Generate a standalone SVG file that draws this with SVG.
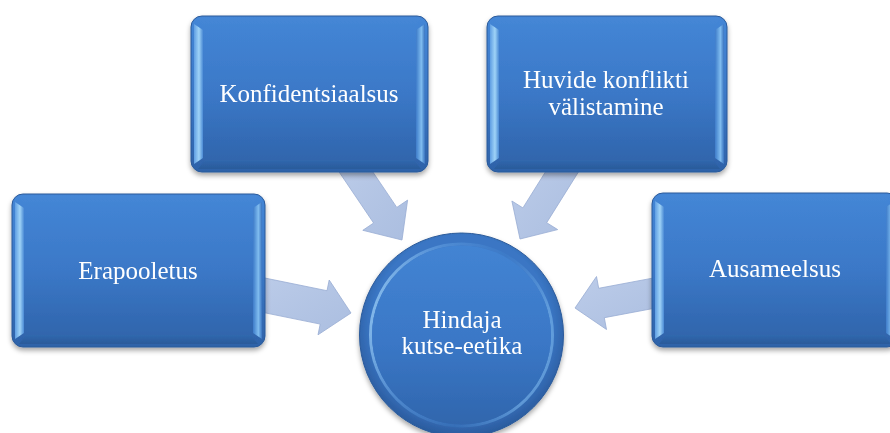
<svg xmlns="http://www.w3.org/2000/svg" width="890" height="433" viewBox="0 0 890 433">
  <defs>
    <linearGradient id="boxFill" x1="0" y1="0" x2="0" y2="1">
      <stop offset="0" stop-color="#4486d6"/>
      <stop offset="0.5" stop-color="#3b78c7"/>
      <stop offset="1" stop-color="#2e62a8"/>
    </linearGradient>
    <linearGradient id="bevL" x1="0" y1="0" x2="1" y2="0">
      <stop offset="0" stop-color="#5f9ee3"/>
      <stop offset="0.55" stop-color="#9fd3f7"/>
      <stop offset="1" stop-color="#4a8ad5"/>
    </linearGradient>
    <linearGradient id="bevR" x1="0" y1="0" x2="1" y2="0">
      <stop offset="0" stop-color="#3e7cca"/>
      <stop offset="0.6" stop-color="#7fbcef"/>
      <stop offset="1" stop-color="#3a74c0"/>
    </linearGradient>
    <linearGradient id="bevB" x1="0" y1="0" x2="0" y2="1">
      <stop offset="0" stop-color="#3068ae"/>
      <stop offset="1" stop-color="#2a5a9a"/>
    </linearGradient>
    <linearGradient id="bevT" x1="0" y1="0" x2="0" y2="1">
      <stop offset="0" stop-color="#4587d6"/>
      <stop offset="1" stop-color="#4284d3"/>
    </linearGradient>
    <linearGradient id="arrowFill" x1="0" y1="0" x2="1" y2="1">
      <stop offset="0" stop-color="#bccce9"/>
      <stop offset="1" stop-color="#abbee0"/>
    </linearGradient>
    <radialGradient id="circOuter" cx="0.5" cy="0.45" r="0.55">
      <stop offset="0.8" stop-color="#3a76c4"/>
      <stop offset="1" stop-color="#2a5a9c"/>
    </radialGradient>
    <linearGradient id="circInner" x1="0" y1="0" x2="0" y2="1">
      <stop offset="0" stop-color="#4384d3"/>
      <stop offset="0.55" stop-color="#3a77c6"/>
      <stop offset="1" stop-color="#3066ad"/>
    </linearGradient>
    <linearGradient id="circRing" x1="0" y1="0" x2="1" y2="0.3">
      <stop offset="0" stop-color="#a6d6f8" stop-opacity="0.95"/>
      <stop offset="0.35" stop-color="#6aa6e6" stop-opacity="0.5"/>
      <stop offset="0.7" stop-color="#4a8ad5" stop-opacity="0.2"/>
      <stop offset="1" stop-color="#7ab6ec" stop-opacity="0.6"/>
    </linearGradient>
    <filter id="shadow" x="-10%" y="-10%" width="120%" height="125%">
      <feDropShadow dx="0" dy="3" stdDeviation="2.5" flood-color="#000" flood-opacity="0.35"/>
    </filter>
  </defs>
  <style>
    .box { fill: url(#boxFill); stroke: #2a5a9a; stroke-width: 1; }
    .bl { fill: url(#bevL); }
    .br { fill: url(#bevR); }
    .bb { fill: url(#bevB); }
    .bt { fill: url(#bevT); }
    .arrow { fill: url(#arrowFill); stroke: #98acd3; stroke-width: 0.8; stroke-linejoin: miter; }
    .lbl { font-family: "Liberation Serif", "Times New Roman", serif; font-size: 25px; fill: #ffffff; text-anchor: middle; }
  </style>
  <rect width="890" height="433" fill="#ffffff"/>

  <g id="connectors">
    <polygon class="arrow" points="359.5,152.2 396.8,207.4 407.6,200.1 402,240 362.8,230.3 373.6,223 336.3,167.8"/>
    <polygon class="arrow" points="557.5,152.6 522.9,207.9 511.9,201 520,239 557.7,229.6 546.7,222.7 581.3,167.4"/>
    <polygon class="arrow" points="253.4,275.7 327,290.7 329.2,280 351,313 318,334.8 320.2,324.1 246.6,309.1"/>
    <polygon class="arrow" points="667.2,275.4 598.7,288.3 596.5,276.5 575,308 606.5,329.5 604.3,317.7 672.8,304.8"/>
  </g>

  <g id="node-konfidentsiaalsus" filter="url(#shadow)">
    <rect class="box" x="191" y="16" width="237" height="156" rx="11"/>
    <polygon class="bt" points="198,18 421,18 414,28 205,28"/>
    <polygon class="bl" points="194,24 203,30 203,158 194,164"/>
    <polygon class="br" points="425,24 416,30 416,158 425,164"/>
    <polygon class="bb" points="205,160 414,160 421,169 198,169"/>
    <text class="lbl" x="309" y="102">Konfidentsiaalsus</text>
  </g>

  <g id="node-huvide" filter="url(#shadow)">
    <rect class="box" x="487" y="16" width="240" height="156" rx="11"/>
    <polygon class="bt" points="494,18 720,18 713,28 501,28"/>
    <polygon class="bl" points="490,24 499,30 499,158 490,164"/>
    <polygon class="br" points="724,24 715,30 715,158 724,164"/>
    <polygon class="bb" points="501,160 713,160 720,169 494,169"/>
    <text class="lbl" x="606" y="88">Huvide konflikti</text>
    <text class="lbl" x="606" y="115">välistamine</text>
  </g>

  <g id="node-erapooletus" filter="url(#shadow)">
    <rect class="box" x="12" y="194" width="253" height="153" rx="11"/>
    <polygon class="bt" points="19,196 258,196 251,206 26,206"/>
    <polygon class="bl" points="15,202 24,208 24,333 15,339"/>
    <polygon class="br" points="262,202 253,208 253,333 262,339"/>
    <polygon class="bb" points="26,335 251,335 258,344 19,344"/>
    <text class="lbl" x="138" y="279">Erapooletus</text>
  </g>

  <g id="node-ausameelsus" filter="url(#shadow)">
    <rect class="box" x="652" y="193" width="246" height="154" rx="11"/>
    <polygon class="bt" points="659,195 891,195 884,205 666,205"/>
    <polygon class="bl" points="655,201 664,207 664,333 655,339"/>
    <polygon class="br" points="895,201 886,207 886,333 895,339"/>
    <polygon class="bb" points="666,335 884,335 891,344 659,344"/>
    <text class="lbl" x="775" y="277">Ausameelsus</text>
  </g>

  <g id="node-hindaja" filter="url(#shadow)">
    <circle cx="461.5" cy="335" r="102" fill="url(#circOuter)" stroke="#2a5a9a" stroke-width="1"/>
    <circle cx="461.5" cy="335" r="91" fill="none" stroke="url(#circRing)" stroke-width="3"/>
    <circle cx="461.5" cy="335" r="89.5" fill="url(#circInner)"/>
    <text class="lbl" x="462" y="328">Hindaja</text>
    <text class="lbl" x="462" y="354">kutse-eetika</text>
  </g>
</svg>
